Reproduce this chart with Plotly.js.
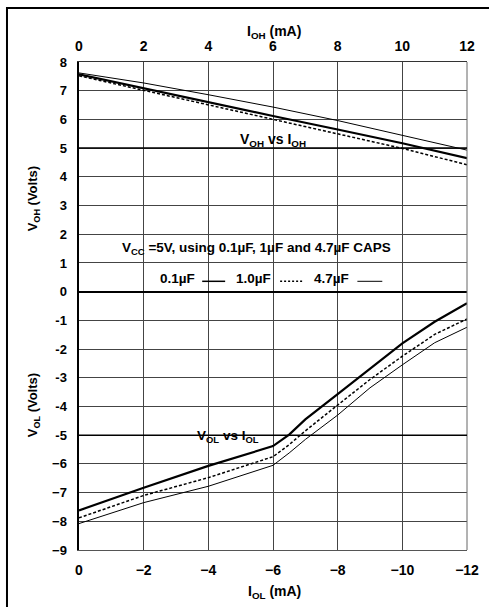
<!DOCTYPE html>
<html>
<head>
<meta charset="utf-8">
<script src="https://cdn.plot.ly/plotly-3.0.1.min.js"></script>
<style>
html,body{margin:0;padding:0;background:#fff;}
#chart{width:489px;height:607px;}
</style>
</head>
<body>
<div id="chart"></div>
<script>
// ---- data ----
const ioh = [0, 2, 4, 6, 8, 10, 12];
const voh_01 = [7.57, 7.08, 6.60, 6.12, 5.65, 5.17, 4.65];
const voh_10 = [7.52, 7.01, 6.51, 6.01, 5.50, 4.99, 4.42];
const voh_47 = [7.62, 7.27, 6.86, 6.43, 5.96, 5.45, 4.93];

const iol = [0, -2, -4, -6, -6.5, -7, -8, -9, -10, -11, -12];
const vol_01 = [-7.62, -6.83, -6.07, -5.38, -4.98, -4.45, -3.57, -2.69, -1.80, -1.05, -0.40];
const vol_10 = [-7.88, -7.10, -6.48, -5.75, -5.33, -4.85, -3.95, -3.06, -2.25, -1.49, -0.95];
const vol_47 = [-8.08, -7.35, -6.78, -6.05, -5.62, -5.15, -4.30, -3.35, -2.55, -1.78, -1.24];

const topTicks = [0, 2, 4, 6, 8, 10, 12];
const bottomTicks = [0, -2, -4, -6, -8, -10, -12];
const bottomTickText = ['0', '\u22122', '\u22124', '\u22126', '\u22128', '\u221210', '\u221212'];
const yTicks = [8, 7, 6, 5, 4, 3, 2, 1, 0, -1, -2, -3, -4, -5, -6, -7, -8, -9];
const yTickText = ['8','7','6','5','4','3','2','1','0','-1','-2','-3','-4','-5','\u22126','\u22127','\u22128','\u22129'];

const capLabels = ['0.1\u00b5F', '1.0\u00b5F', '4.7\u00b5F'];

// ---- styles ----
const FONT = 'Liberation Sans, Arial, Helvetica, sans-serif';
const thick = {color: '#000', width: 2.2, dash: 'solid'};
const dashed = {color: '#000', width: 1.5, dash: '3px,2px'};
const thin = {color: '#000', width: 1, dash: 'solid'};

const traces = [
  {x: ioh, y: voh_01, xaxis: 'x2', yaxis: 'y', mode: 'lines', line: thick, name: capLabels[0]},
  {x: ioh, y: voh_10, xaxis: 'x2', yaxis: 'y', mode: 'lines', line: dashed, name: capLabels[1]},
  {x: ioh, y: voh_47, xaxis: 'x2', yaxis: 'y', mode: 'lines', line: thin, name: capLabels[2]},
  {x: iol, y: vol_01, xaxis: 'x', yaxis: 'y', mode: 'lines', line: thick, name: capLabels[0]},
  {x: iol, y: vol_10, xaxis: 'x', yaxis: 'y', mode: 'lines', line: dashed, name: capLabels[1]},
  {x: iol, y: vol_47, xaxis: 'x', yaxis: 'y', mode: 'lines', line: thin, name: capLabels[2]}
];

const tickFontX = {family: FONT, size: 14, color: '#000', weight: 'bold'};
const tickFontY = {family: FONT, size: 13, color: '#000', weight: 'bold'};

function ann(text, xref, yref, x, y, size, extra) {
  return Object.assign({text: '<b>' + text + '</b>', xref: xref, yref: yref, x: x, y: y,
    xanchor: 'center', yanchor: 'middle', showarrow: false,
    font: {family: FONT, size: size, color: '#000'}}, extra || {});
}

const layout = {
  width: 489, height: 607,
  margin: {l: 79, r: 22, t: 62, b: 57},
  paper_bgcolor: '#fff', plot_bgcolor: '#fff',
  showlegend: false,
  font: {family: FONT, color: '#000'},
  xaxis: {
    range: [0, -12], tickvals: bottomTicks, ticktext: bottomTickText,
    tickfont: tickFontX, ticks: '', ticklabelstandoff: 7,
    showgrid: true, gridcolor: '#444', gridwidth: 1, zeroline: false,
    showline: true, linecolor: '#555', linewidth: 1, fixedrange: true
  },
  xaxis2: {
    overlaying: 'x', side: 'top', range: [0, 12], tickvals: topTicks,
    tickfont: tickFontX, ticks: '', ticklabelstandoff: 4,
    showgrid: false, zeroline: false,
    showline: true, linecolor: '#333', linewidth: 1, fixedrange: true
  },
  yaxis: {
    range: [-9, 8], tickvals: yTicks, ticktext: yTickText,
    tickfont: tickFontY, ticks: '', ticklabelstandoff: 7,
    showgrid: true, gridcolor: '#444', gridwidth: 1,
    zeroline: true, zerolinecolor: '#000', zerolinewidth: 2,
    showline: true, linecolor: '#000', linewidth: 2.5, fixedrange: true
  },
  shapes: [
    // outer frame (right and bottom edges fall outside the picture)
    {type: 'rect', xref: 'paper', yref: 'paper', x0: -0.1856, x1: 1.12, y0: -0.16, y1: 1.1107,
     line: {color: '#000', width: 2}},
    // right border of plot
    {type: 'line', xref: 'paper', yref: 'paper', x0: 1, x1: 1, y0: 0, y1: 1, line: {color: '#666', width: 1}},
    // emphasized gridlines
    {type: 'line', xref: 'paper', yref: 'y', x0: 0, x1: 1, y0: 5, y1: 5, line: {color: '#000', width: 1.5}},
    {type: 'line', xref: 'paper', yref: 'y', x0: 0, x1: 1, y0: -5, y1: -5, line: {color: '#000', width: 1.5}},
    // legend samples
    {type: 'line', xref: 'x2', yref: 'y', x0: 3.81, x1: 4.52, y0: 0.36, y1: 0.36, line: {color: '#000', width: 1.5}},
    {type: 'line', xref: 'x2', yref: 'y', x0: 6.22, x1: 6.93, y0: 0.36, y1: 0.36, line: {color: '#000', width: 1.5, dash: '2px,2px'}},
    {type: 'line', xref: 'x2', yref: 'y', x0: 8.61, x1: 9.38, y0: 0.36, y1: 0.36, line: {color: '#000', width: 1}}
  ],
  annotations: [
    ann('I<sub>OH</sub> (mA)', 'paper', 'paper', 0.502, 1.062, 14),
    ann('I<sub>OL</sub> (mA)', 'paper', 'paper', 0.505, -0.087, 14),
    ann('V<sub>OH</sub> (Volts)', 'paper', 'paper', -0.118, 0.719, 13, {textangle: -90}),
    ann('V<sub>OL</sub> (Volts)', 'paper', 'paper', -0.118, 0.297, 13, {textangle: -90}),
    ann('V<sub>OH</sub> vs I<sub>OH</sub>', 'x2', 'y', 6.0, 5.3, 14),
    ann('V<sub>OL</sub> vs I<sub>OL</sub>', 'x', 'y', -4.6, -5.05, 13.5),
    ann('V<sub>CC</sub> =5V, using 0.1\u00b5F, 1\u00b5F and 4.7\u00b5F CAPS', 'x2', 'y', 5.48, 1.5, 13.5),
    ann(capLabels[0], 'x2', 'y', 3.05, 0.47, 13.5),
    ann(capLabels[1], 'x2', 'y', 5.40, 0.47, 13.5),
    ann(capLabels[2], 'x2', 'y', 7.82, 0.47, 13.5)
  ]
};

Plotly.newPlot('chart', traces, layout, {displayModeBar: false, staticPlot: true});
</script>
</body>
</html>
